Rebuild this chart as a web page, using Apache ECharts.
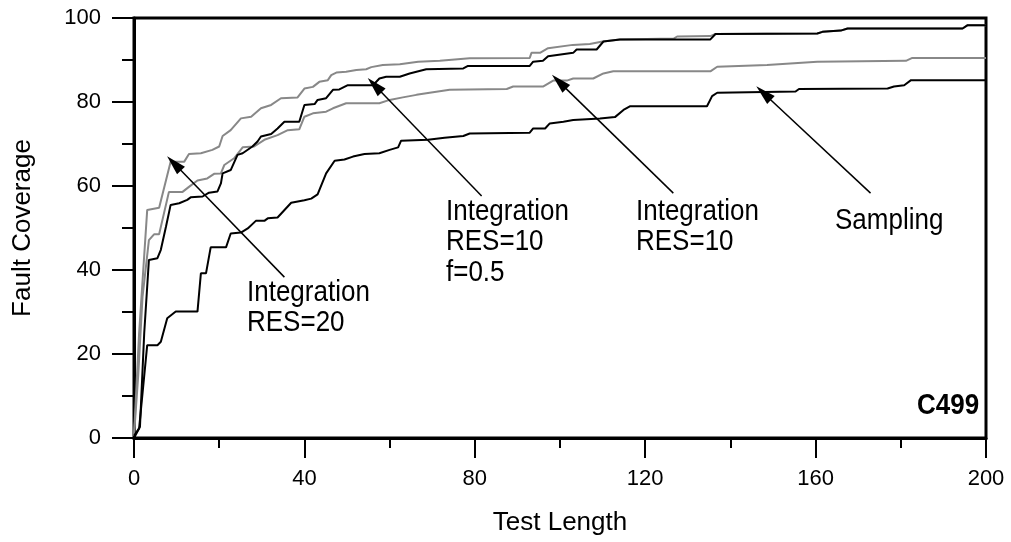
<!DOCTYPE html>
<html>
<head>
<meta charset="utf-8">
<script src="https://cdn.jsdelivr.net/npm/echarts@6/dist/echarts.min.js"></script>
<style>
  html, body { margin: 0; padding: 0; background: #fff; }
  #chart { width: 1011px; height: 542px; }
</style>
</head>
<body>
<div id="chart"></div>
<script>
// fault coverage curves, [test length, coverage %]
var res20 = [[0,0.5],[1.2,25],[3.1,54.3],[5.9,54.8],[8.6,65.8],[11.8,65.8],[12.9,67.6],[15.7,67.8],[18.4,68.6],[20,69.4],[20.8,71.9],[22.7,73.3],[25.1,76.1],[27.5,76.5],[29.8,78.5],[32.2,79.3],[34.5,80.9],[38.4,81.1],[40,83.2],[42,83.6],[43.5,84.8],[45.5,85.2],[46.3,86.4],[47.5,87],[49.8,87.2],[52.2,87.6],[54.5,87.8],[55.7,88.3],[58.4,88.8],[62.4,89],[66.7,89.6],[71.8,89.8],[78.8,90.4],[92.9,90.5],[93.3,91.7],[95.3,91.7],[97.2,92.8],[103,93.6],[107,93.8],[110,94.4],[114,94.9],[126.7,95.1],[127.5,95.6],[135.3,95.7],[136.5,96.2],[160.4,96.3],[161.6,96.7],[165.9,97],[167.5,97.5],[194.5,97.5],[195.7,98.3],[200,98.3]];
var res10f = [[0,0],[1.4,2.7],[2.4,25],[3.5,42.4],[5.5,42.8],[6.3,44.8],[7.5,50.3],[8.6,55.5],[10.6,55.9],[12.5,56.7],[13.3,57.3],[16.1,57.5],[17.6,58.4],[19.6,58.7],[20.4,60.6],[20.8,63],[22.7,63.8],[24.3,67.4],[25.5,67.8],[27.8,69.4],[29,70.6],[29.8,71.8],[32.2,72.4],[33.7,73.7],[35.3,75.3],[38.8,75.3],[40,79.3],[42.4,79.5],[43.1,80.5],[45.1,80.9],[46.7,82.9],[48.2,83],[50.2,84],[56.1,84],[57.6,85.6],[59.2,86],[62.4,86],[64.7,86.8],[68.6,87.8],[77.3,88],[78.4,88.6],[92.9,88.6],[93.7,89.6],[96,89.8],[97.2,90.9],[103.1,91.7],[103.9,92.5],[108.6,92.5],[110.2,94.4],[114.1,94.9],[135.3,94.9],[136.5,96.2],[160.4,96.3],[161.6,96.7],[165.9,97],[167.5,97.5],[194.5,97.5],[195.7,98.3],[200,98.3]];
var res10 = [[0,0.5],[1,15],[2,33.6],[3.5,47.1],[4.7,48.5],[5.9,48.5],[8.2,58.6],[11.4,58.6],[12.9,59.8],[14.9,61.3],[17.2,61.8],[18.8,62.9],[20.4,63],[21.2,65],[23.5,66.6],[25.5,69.2],[28.2,69.4],[30.6,71],[33.7,72.1],[36.1,73.3],[38.8,73.5],[40,76.5],[42,77.3],[45.1,77.7],[46.7,78.5],[49.8,79.7],[57.6,79.7],[60,80.5],[63.1,81.1],[66.3,81.7],[69.4,82.2],[74.1,82.9],[87.5,83.1],[89,83.7],[96.1,83.7],[98.4,85.1],[101.6,85.1],[103.1,85.6],[107.8,85.6],[110.2,86.8],[112.5,87.3],[135.3,87.3],[136.9,88.4],[148.6,88.8],[160.4,89.6],[181.2,89.8],[182.7,90.5],[200,90.5]];
var sampling = [[0,0.5],[1.2,2.3],[3.1,22.1],[5.5,22.1],[6.3,22.9],[7.8,28.5],[9.8,30.1],[14.9,30.1],[15.7,39.2],[16.9,39.2],[18,45.4],[21.6,45.4],[22.7,48.7],[25.1,48.9],[26.7,49.9],[28.6,51.7],[30.6,51.7],[31.4,52.3],[33.7,52.5],[36.9,56],[40,56.6],[41.6,57],[43.1,58],[45.1,63],[47.1,66],[49.4,66.3],[51.4,67],[54.1,67.6],[57.6,67.8],[60,68.6],[62,69.2],[62.7,70.8],[69,71],[72.9,71.5],[77.3,71.9],[78.8,72.5],[92.9,72.7],[93.7,73.7],[96.5,73.7],[97.6,74.9],[100.8,75.3],[103.1,75.7],[109.4,76.1],[112.9,76.4],[114.9,78.1],[116.5,79],[134.5,79],[135.7,81.4],[136.9,82.2],[155.3,82.5],[156.1,83.1],[176.9,83.2],[178.4,83.7],[180.8,84],[182.4,85.2],[200,85.2]];

// annotation arrows: [tail, tip] in data units
var arrows = [
  [[35.3, 38.3], [9.4, 65.4]],
  [[81.6, 57.6], [56.5, 84]],
  [[126.6, 58.3], [99.8, 84.8]],
  [[172.9, 58.3], [147.8, 82.1]]
];

var font = 'Liberation Sans, Arial, Helvetica, sans-serif';
var gray = '#888888';

var chart = echarts.init(document.getElementById('chart'));

function curve(data, color) {
  return {
    type: 'line',
    data: data,
    showSymbol: false,
    symbol: 'none',
    lineStyle: { color: color, width: 2 },
    z: color == gray ? 2 : 3
  };
}

// text block, stretched a bit taller like the original figure's lettering
function note(left, top, text, bold) {
  return {
    type: 'text', left: left, top: top, scaleY: 1.12,
    style: { text: text, font: (bold ? 'bold ' : '') + '26px ' + font, fill: '#000', lineHeight: 27 }
  };
}

var arrowSeries = curve([], '#000');
arrowSeries.markLine = {
  silent: true,
  symbol: ['none', 'triangle'],
  symbolSize: [11, 20],
  label: { show: false },
  lineStyle: { color: '#000', width: 1.5, type: 'solid' },
  data: arrows.map(function (a) {
    return [{ coord: a[0] }, { coord: a[1] }];
  })
};

var option = {
  animation: false,
  backgroundColor: '#fff',
  grid: {
    left: 134, right: 25, top: 18, bottom: 104,
    show: true, borderColor: '#000', borderWidth: 3
  },
  xAxis: {
    type: 'value',
    min: 0, max: 200, interval: 40,
    name: 'Test Length',
    nameLocation: 'middle',
    nameGap: 72,
    nameTextStyle: { fontFamily: font, fontSize: 26, color: '#000' },
    axisLine: { lineStyle: { color: '#000', width: 3 } },
    axisTick: { length: 20, lineStyle: { color: '#000', width: 2 } },
    minorTick: { show: true, splitNumber: 2, length: 10, lineStyle: { color: '#000', width: 2 } },
    splitLine: { show: false },
    axisLabel: { fontFamily: font, fontSize: 22, color: '#000', margin: 30 }
  },
  yAxis: {
    type: 'value',
    min: 0, max: 100, interval: 20,
    name: 'Fault Coverage',
    nameLocation: 'middle',
    nameGap: 98,
    nameTextStyle: { fontFamily: font, fontSize: 26, color: '#000' },
    axisLine: { lineStyle: { color: '#000', width: 3 } },
    axisTick: { length: 22, lineStyle: { color: '#000', width: 2 } },
    minorTick: { show: true, splitNumber: 2, length: 12, lineStyle: { color: '#000', width: 2 } },
    splitLine: { show: false },
    axisLabel: { fontFamily: font, fontSize: 22, color: '#000', margin: 33 }
  },
  graphic: [
    note(247, 278, 'Integration\nRES=20'),
    note(446, 197, 'Integration\nRES=10\nf=0.5'),
    note(636, 197, 'Integration\nRES=10'),
    note(835, 206, 'Sampling'),
    note(917, 391, 'C499', true)
  ],
  series: [
    curve(res20, gray),
    curve(res10, gray),
    curve(res10f, '#000'),
    curve(sampling, '#000'),
    arrowSeries
  ]
};

chart.setOption(option);
</script>
</body>
</html>
